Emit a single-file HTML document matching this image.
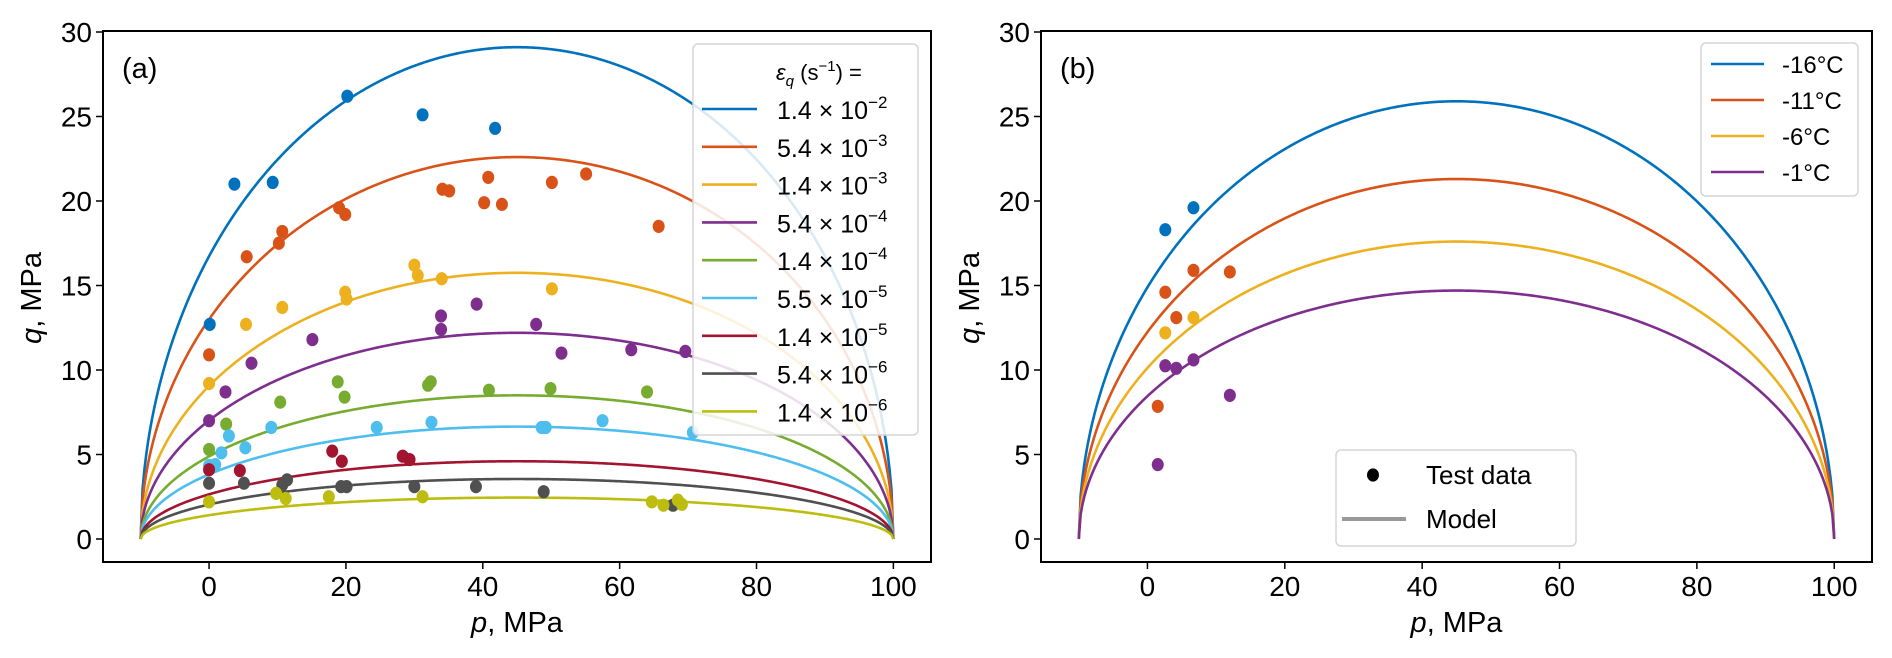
<!DOCTYPE html>
<html><head><meta charset="utf-8"><style>
body{margin:0;background:#fff;}
svg{display:block;font-family:"Liberation Sans","DejaVu Sans",sans-serif;}
</style></head><body>
<svg id="fig" width="1892" height="658" viewBox="0 0 1892 658" xmlns="http://www.w3.org/2000/svg">
<g id="pa"></g>
<g id="pb"></g>
</svg>
<script>
// ---- Data ----
const xTicks = [0, 20, 40, 60, 80, 100];
const yTicks = [0, 5, 10, 15, 20, 25, 30];
const colorsA = ['#0072BD','#D95319','#EDB120','#7E2F8E','#77AC30','#4DBEEE','#A2142F','#505050','#BDBD10'];
const rateMant = ['1.4','5.4','1.4','5.4','1.4','5.5','1.4','5.4','1.4'];
const rateExp = ['2','3','3','4','4','5','5','6','6'];
const peaksA = [29.1, 22.6, 15.75, 12.2, 8.5, 6.65, 4.6, 3.55, 2.45];
const pointsA0 = [[3.7,21.0],[9.3,21.1],[20.2,26.2],[31.2,25.1],[41.8,24.3],[0.1,12.7]];
const pointsA1 = [[0,10.9],[5.5,16.7],[10.2,17.5],[10.7,18.2],[19,19.6],[19.9,19.2],[34.1,20.7],[35.1,20.6],[40.2,19.9],[40.8,21.4],[42.8,19.8],[50.1,21.1],[55.1,21.6],[65.7,18.5]];
const pointsA2 = [[0,9.2],[5.4,12.7],[10.7,13.7],[19.9,14.6],[20.1,14.2],[30,16.2],[30.5,15.6],[34,15.4],[50.1,14.8]];
const pointsA3 = [[0,7.0],[2.4,8.7],[6.2,10.4],[15.1,11.8],[33.9,13.2],[33.9,12.4],[39.1,13.9],[47.8,12.7],[51.5,11.0],[61.7,11.2],[69.6,11.1]];
const pointsA4 = [[0,5.3],[2.5,6.8],[10.4,8.1],[18.8,9.3],[19.8,8.4],[32,9.1],[32.4,9.3],[40.9,8.8],[49.9,8.9],[64,8.7]];
const pointsA5 = [[0,4.35],[0.9,4.4],[1.8,5.1],[2.9,6.1],[5.3,5.4],[9.1,6.6],[24.5,6.6],[32.5,6.9],[48.6,6.6],[49.2,6.6],[57.5,7.0],[70.7,6.3]];
const pointsA6 = [[0,4.1],[4.5,4.05],[18,5.2],[19.4,4.6],[28.3,4.9],[29.3,4.7]];
const pointsA7 = [[0,3.3],[5.1,3.3],[10.7,3.2],[11.4,3.5],[19.3,3.1],[20.1,3.1],[30,3.1],[39,3.1],[48.9,2.8],[67.8,2.0]];
const pointsA8 = [[0,2.2],[9.8,2.7],[11.2,2.4],[17.5,2.5],[31.2,2.5],[64.7,2.2],[66.4,2.0],[68.5,2.3],[69.1,2.05]];
const pointsA = [pointsA0,pointsA1,pointsA2,pointsA3,pointsA4,pointsA5,pointsA6,pointsA7,pointsA8];
const colorsB = ['#0072BD','#D95319','#EDB120','#7E2F8E'];
const tempLabels = ['-16°C','-11°C','-6°C','-1°C'];
const peaksB = [25.9, 21.3, 17.6, 14.7];
const pointsB0 = [[2.6,18.3],[6.7,19.6]];
const pointsB1 = [[1.5,7.85],[2.6,14.6],[4.2,13.1],[6.7,15.9],[12,15.8]];
const pointsB2 = [[2.6,12.2],[6.7,13.1]];
const pointsB3 = [[1.5,4.4],[2.6,10.25],[4.2,10.1],[6.7,10.6],[12,8.5]];
const pointsB = [pointsB0,pointsB1,pointsB2,pointsB3];
const pMin = -10, pMax = 100;

const NS='http://www.w3.org/2000/svg';
function mk(parent,tag,attrs,text){const e=document.createElementNS(NS,tag);for(const k in attrs)e.setAttribute(k,attrs[k]);if(text!==undefined)e.textContent=text;parent.appendChild(e);return e;}

function axes(g,left,right,label){
  const top=31,bottom=562;
  const xs=p=>left+(p+15.5)*(right-left)/121;
  const ys=q=>539-q*16.9;
  // curves layer
  const frame={xs,ys,top,bottom,left,right};
  // ticks
  xTicks.forEach(t=>{
    const l=mk(g,'line',{x1:xs(t),x2:xs(t),y1:bottom,y2:bottom+7,stroke:'#000','stroke-width':1.5});
    
    
    const tx=mk(g,'text',{x:xs(t),y:bottom+34,'font-size':28,'text-anchor':'middle'},String(t));
    
    
  });
  yTicks.forEach(t=>{
    const l=mk(g,'line',{x1:left-7,x2:left,y1:ys(t),y2:ys(t),stroke:'#000','stroke-width':1.5});
    
    
    const tx=mk(g,'text',{x:left-11,y:ys(t)+10,'font-size':28,'text-anchor':'end'},String(t));
    
    
  });
  const xl=mk(g,'text',{x:(left+right)/2,y:632,'font-size':29,'text-anchor':'middle'});
  xl.innerHTML='<tspan font-style="italic">p</tspan>, MPa';
  
  
  const yl=mk(g,'text',{x:0,y:0,'font-size':29,'text-anchor':'middle',transform:`translate(${left-62},298) rotate(-90)`});
  yl.innerHTML='<tspan font-style="italic">q</tspan>, MPa';
  
  
  const pl=mk(g,'text',{x:left+19,y:78,'font-size':29},label);
  
  
  return frame;
}
function ellipse(g,f,peak,color){
  let d='';
  for(let i=0;i<=400;i++){
    const p=pMin+(pMax-pMin)*i/400;
    const q=peak*Math.sqrt(Math.max(0,(p-pMin)*(pMax-p)))/((pMax-pMin)/2);
    d+=(i?'L':'M')+f.xs(p).toFixed(2)+','+f.ys(q).toFixed(2);
  }
  const c=mk(g,'path',{d,fill:'none',stroke:color,'stroke-width':2.6});
  
  
}
function dots(g,f,pts,color){
  pts.forEach(pt=>{
    const c=mk(g,'ellipse',{cx:f.xs(pt[0]),cy:f.ys(pt[1]),rx:6,ry:6.6,fill:color});
    
    
  });
}
function spines(g,f){
  const r=mk(g,'rect',{x:f.left,y:f.top,width:f.right-f.left,height:f.bottom-f.top,fill:'none',stroke:'#000','stroke-width':2});
  
  
}

// Panel A
const ga=document.getElementById('pa');
const fa=axes(ga,103,931,'(a)');
peaksA.forEach((pk,i)=>ellipse(ga,fa,pk,colorsA[i]));
pointsA.forEach((pts,i)=>dots(ga,fa,pts,colorsA[i]));
const lgA=mk(ga,'g',{});


mk(lgA,'rect',{x:693,y:44,width:225,height:391,rx:5,fill:'#fff','fill-opacity':0.85,stroke:'#d6d6d6','stroke-width':1.5});
const ttl=mk(lgA,'text',{x:776,y:80,'font-size':22});
ttl.innerHTML='<tspan font-style="italic">ε</tspan><tspan font-size="15" dy="6" font-style="italic">q</tspan><tspan dy="-6"> (s</tspan><tspan font-size="15" dy="-9">−1</tspan><tspan dy="9">) =</tspan>';


colorsA.forEach((c,i)=>{
  const y=109+i*37.8;
  const ln=mk(lgA,'line',{x1:702,x2:757,y1:y,y2:y,stroke:c,'stroke-width':2.6});
  
  
  const t=mk(lgA,'text',{x:777,y:y+10,'font-size':25});
  t.innerHTML=rateMant[i]+' × 10<tspan font-size="17" dy="-11">−'+rateExp[i]+'</tspan>';
  
  
});
spines(ga,fa);

// Panel B
const gb=document.getElementById('pb');
const fb=axes(gb,1041,1872,'(b)');
peaksB.forEach((pk,i)=>ellipse(gb,fb,pk,colorsB[i]));
pointsB.forEach((pts,i)=>dots(gb,fb,pts,colorsB[i]));
const lgB=mk(gb,'g',{});


mk(lgB,'rect',{x:1701,y:43,width:157,height:153,rx:5,fill:'#fff',stroke:'#d6d6d6','stroke-width':1.5});
colorsB.forEach((c,i)=>{
  const y=64+i*36;
  const ln=mk(lgB,'line',{x1:1711,x2:1764,y1:y,y2:y,stroke:c,'stroke-width':2.6});
  
  
  const t=mk(lgB,'text',{x:1782,y:y+9,'font-size':24},tempLabels[i]);
  
  
});
const lgC=mk(gb,'g',{});


mk(lgC,'rect',{x:1336,y:450,width:240,height:96,rx:5,fill:'#fff',stroke:'#d6d6d6','stroke-width':1.5});
mk(lgC,'ellipse',{cx:1373,cy:475,rx:6,ry:6.6,fill:'#000'});
const t1=mk(lgC,'text',{x:1426,y:484,'font-size':26},'Test data');


mk(lgC,'line',{x1:1342,x2:1406,y1:519,y2:519,stroke:'#999','stroke-width':4});
const t2=mk(lgC,'text',{x:1426,y:528,'font-size':26},'Model');


spines(gb,fb);
</script>
</body></html>
